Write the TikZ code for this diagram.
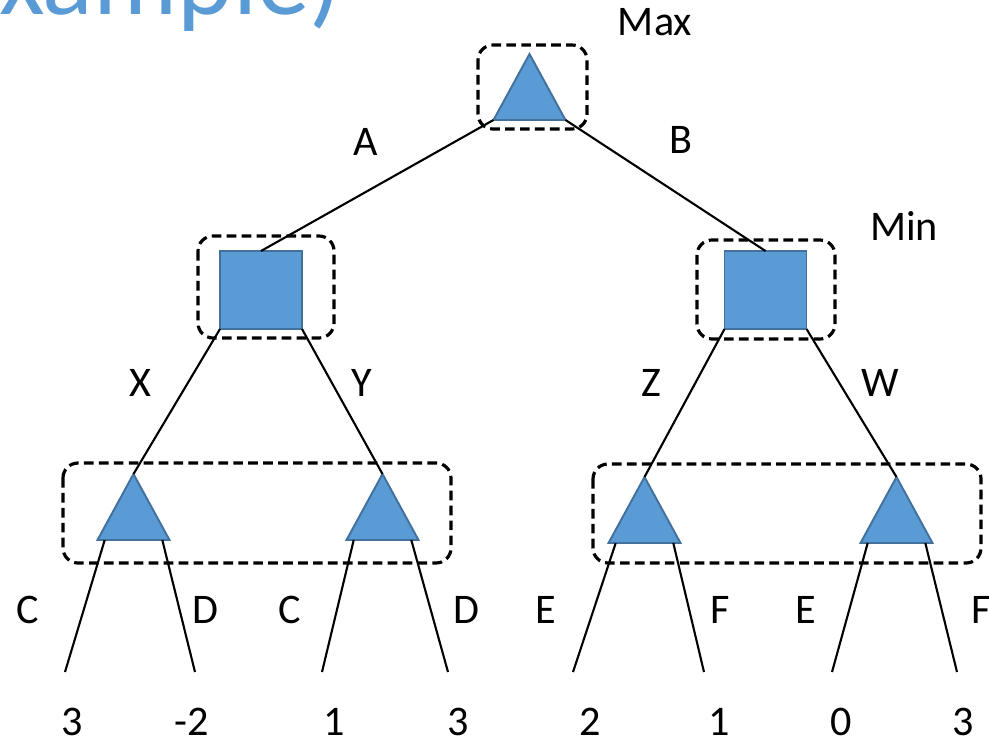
\documentclass[tikz,border=0pt]{standalone}
\usepackage{fontspec}
\setmainfont{Carlito}
\usetikzlibrary{shapes.geometric,calc}

\definecolor{nodeblue}{RGB}{91,155,213}
\definecolor{nodeedge}{RGB}{65,113,156}

\begin{document}
\begin{tikzpicture}[x=0.02cm,y=-0.02cm]

% --- Global TikZ Styles ---
\tikzset{
    maxnode/.style={
        isosceles triangle,
        isosceles triangle stretches,
        shape border rotate=90,
        fill=nodeblue,
        draw=nodeedge,
        line width=1.1pt,
        minimum width=1.44cm,
        minimum height=1.32cm,
        inner sep=0pt,
        outer sep=0pt,
        anchor=apex
    },
    minnode/.style={
        rectangle,
        fill=nodeblue,
        draw=nodeedge,
        line width=1.1pt,
        minimum width=1.64cm,
        minimum height=1.56cm,
        inner sep=0pt,
        outer sep=0pt
    },
    groupbox/.style={
        draw=black,
        line width=1.8pt,
        dash pattern=on 5.5pt off 3pt,
        rounded corners=0.3cm
    },
    branch/.style={
        draw=black,
        line width=1.2pt
    },
    movetext/.style={
        font=\fontsize{24}{28}\selectfont,
        inner sep=0pt
    },
    titletext/.style={
        font=\fontsize{60}{66}\selectfont,
        text=nodeblue,
        inner sep=0pt
    }
}

\useasboundingbox (0,0) rectangle (989,744);

% ==================================================
% --- Title (cut off) ---
% ==================================================

\node[titletext, anchor=base east] (title) at (342,14) {xample)};

% ==================================================
% --- Tree nodes ---
% ==================================================

% Max root
\node[maxnode] (root) at (529.5,54) {};
\node[movetext] (maxlab) at (655,22) {Max};

% Min level
\node[minnode] (minL) at (261,290) {};
\node[minnode] (minR) at (765.5,290) {};
\node[movetext] (minlab) at (904,226) {Min};

% Max level below
\node[maxnode] (maxLL) at (133.5,474) {};
\node[maxnode] (maxLR) at (382.5,474) {};
\node[maxnode] (maxRL) at (644.5,477) {};
\node[maxnode] (maxRR) at (896.5,477) {};

% ==================================================
% --- Dashed groups ---
% ==================================================

\draw[groupbox] (478,45) rectangle (587,129);
\draw[groupbox] (198,236) rectangle (334,338);
\draw[groupbox] (697,240) rectangle (835,339);
\draw[groupbox] (63,463) rectangle (451,563);
\draw[groupbox] (593,464) rectangle (981,563);

% ==================================================
% --- Branches ---
% ==================================================

\draw[branch] (root.left corner) -- (minL.north);
\draw[branch] (root.right corner) -- (minR.north);
\node[movetext] (actA) at (366,142) {A};
\node[movetext] (actB) at (681,140) {B};

\draw[branch] (minL.south west) -- (maxLL.apex);
\draw[branch] (minL.south east) -- (maxLR.apex);
\draw[branch] (minR.south west) -- (maxRL.apex);
\draw[branch] (minR.south east) -- (maxRR.apex);
\node[movetext] (actX) at (140,383) {X};
\node[movetext] (actY) at (362,383) {Y};
\node[movetext] (actZ) at (651,383) {Z};
\node[movetext] (actW) at (880,383) {W};

% Leaf ends
\foreach \n/\x in {1/65,2/195,3/322,4/448,5/573,6/704,7/832,8/957}{
    \coordinate (leaf\n) at (\x,672);
}

\draw[branch] ($(maxLL.left corner)!0.1!(maxLL.right corner)$) -- (leaf1);
\draw[branch] ($(maxLL.right corner)!0.1!(maxLL.left corner)$) -- (leaf2);
\draw[branch] ($(maxLR.left corner)!0.1!(maxLR.right corner)$) -- (leaf3);
\draw[branch] ($(maxLR.right corner)!0.1!(maxLR.left corner)$) -- (leaf4);
\draw[branch] ($(maxRL.left corner)!0.1!(maxRL.right corner)$) -- (leaf5);
\draw[branch] ($(maxRL.right corner)!0.1!(maxRL.left corner)$) -- (leaf6);
\draw[branch] ($(maxRR.left corner)!0.1!(maxRR.right corner)$) -- (leaf7);
\draw[branch] ($(maxRR.right corner)!0.1!(maxRR.left corner)$) -- (leaf8);

% Leaf actions
\foreach \n/\x/\t in {1/28/C,2/205/D,3/290/C,4/466/D,5/546/E,6/720/F,7/806/E,8/981/F}{
    \node[movetext] (act\n) at (\x,610) {\t};
}

% Payoffs
\foreach \n/\x/\v in {1/72/3,2/192/-2,3/334/1,4/458/3,5/590/2,6/719/1,7/841/0,8/963/3}{
    \node[movetext] (pay\n) at (\x,722) {\v};
}

\end{tikzpicture}
\end{document}
